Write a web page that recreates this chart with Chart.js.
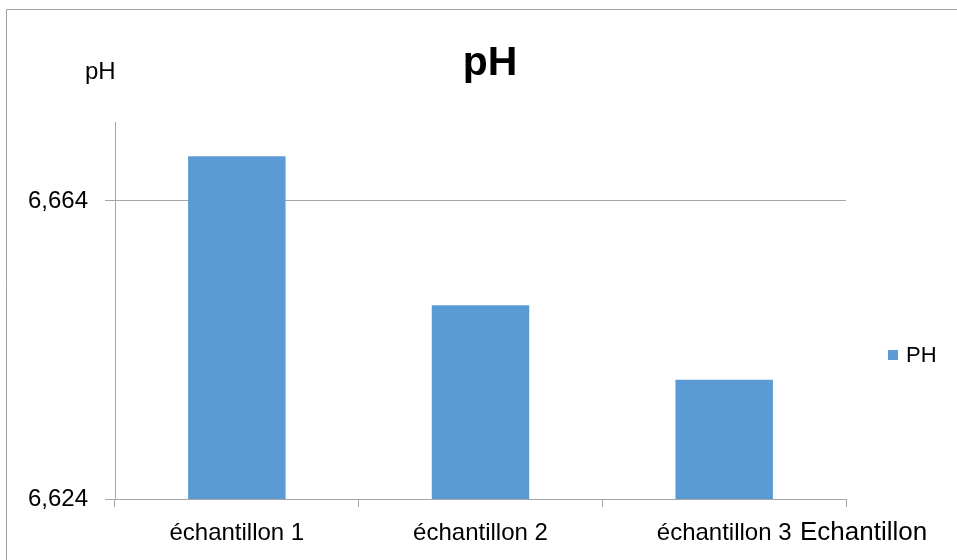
<!DOCTYPE html>
<html>
<head>
<meta charset="utf-8">
<script src="https://cdn.jsdelivr.net/npm/chart.js@4"></script>
<style>
  html, body { margin: 0; padding: 0; background: #ffffff; }
  #wrap { width: 957px; height: 560px; position: relative; }
</style>
</head>
<body>
<div id="wrap"><canvas id="c" width="957" height="560"></canvas></div>
<script>
// pH measured for each sample
const categories = ['échantillon 1', 'échantillon 2', 'échantillon 3'];
const phValues = [6.670, 6.650, 6.640];
const seriesName = 'PH';

// value axis
const yMin = 6.624;
const yMax = 6.6746;
const tickValues = [6.624, 6.664];
const tickLabels = ['6,624', '6,664'];

const chartTitle = 'pH';
const yAxisTitle = 'pH';
const xAxisTitle = 'Echantillon';

const FONT = '"Liberation Sans", Arial, sans-serif';
const GRID = '#a6a6a6';
const BAR = '#5b9bd5';

// frame, titles and legend drawn around the plot
const decorations = {
  id: 'decorations',
  beforeDraw(chart) {
    const ctx = chart.ctx;
    ctx.save();
    ctx.fillStyle = '#ffffff';
    ctx.fillRect(0, 0, chart.width, chart.height);
    ctx.strokeStyle = '#a0a0a0';
    ctx.lineWidth = 1;
    ctx.beginPath();
    ctx.moveTo(6.5, chart.height + 1);
    ctx.lineTo(6.5, 9.5);
    ctx.lineTo(chart.width + 1, 9.5);
    ctx.stroke();
    ctx.restore();
  },
  afterDraw(chart) {
    const ctx = chart.ctx;
    ctx.save();
    ctx.fillStyle = '#000000';
    ctx.textBaseline = 'alphabetic';

    ctx.font = 'bold 41px ' + FONT;
    ctx.textAlign = 'center';
    ctx.fillText(chartTitle, 490, 75);

    ctx.font = '24px ' + FONT;
    ctx.textAlign = 'left';
    ctx.fillText(yAxisTitle, 85, 79);

    ctx.font = '26px ' + FONT;
    ctx.fillText(xAxisTitle, 800, 540);

    // legend entry
    ctx.fillStyle = BAR;
    ctx.fillRect(888, 350, 10, 10);
    ctx.fillStyle = '#000000';
    ctx.font = '22px ' + FONT;
    ctx.textBaseline = 'middle';
    ctx.fillText(chart.data.datasets[0].label, 906, 356);
    ctx.restore();
  }
};

new Chart(document.getElementById('c'), {
  type: 'bar',
  data: {
    labels: categories,
    datasets: [{
      label: seriesName,
      data: phValues,
      backgroundColor: BAR,
      borderWidth: 0,
      barPercentage: 0.4,
      categoryPercentage: 1.0
    }]
  },
  options: {
    responsive: false,
    animation: false,
    devicePixelRatio: 1,
    layout: { padding: { left: 0, right: 111, top: 122, bottom: 0 } },
    plugins: {
      legend: { display: false },
      title: { display: false },
      tooltip: { enabled: false }
    },
    scales: {
      x: {
        afterFit(scale) { scale.height = 61; },
        grid: {
          offset: true,
          drawOnChartArea: false,
          drawTicks: true,
          tickLength: 8,
          color: GRID
        },
        border: { color: GRID, width: 1 },
        ticks: {
          color: '#000000',
          font: { family: FONT, size: 24 },
          padding: 12,
          maxRotation: 0
        }
      },
      y: {
        min: yMin,
        max: yMax,
        afterFit(scale) { scale.width = 115; },
        afterBuildTicks(scale) {
          scale.ticks = tickValues.map(v => ({ value: v }));
        },
        grid: {
          color: GRID,
          drawTicks: true,
          tickLength: 10
        },
        border: { color: GRID, width: 1 },
        ticks: {
          color: '#000000',
          font: { family: FONT, size: 24 },
          padding: 17,
          callback(value) {
            const i = tickValues.findIndex(t => Math.abs(t - value) < 1e-9);
            return i >= 0 ? tickLabels[i] : '';
          }
        }
      }
    }
  },
  plugins: [decorations]
});
</script>
</body>
</html>
